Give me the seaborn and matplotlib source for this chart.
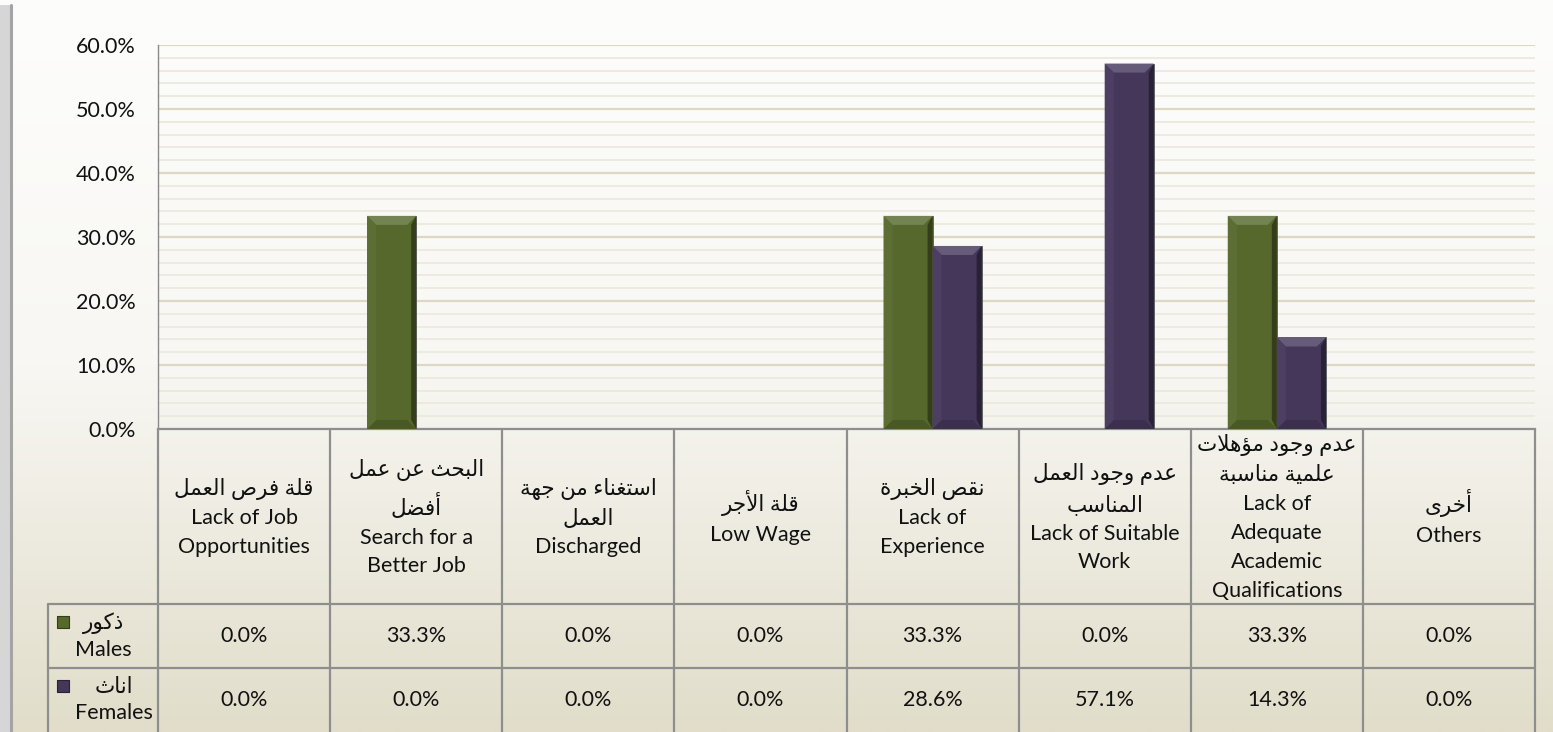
import numpy as np
import pandas as pd
import seaborn as sns
import matplotlib.pyplot as plt
from matplotlib.patches import Polygon
from matplotlib.colors import to_rgb, LinearSegmentedColormap

# ---- data ----
cat_ar = ['قلة فرص العمل', 'البحث عن عمل\nأفضل', 'استغناء من جهة\nالعمل', 'قلة الأجر',
          'نقص الخبرة', 'عدم وجود العمل\nالمناسب', 'عدم وجود مؤهلات\nعلمية مناسبة', 'أخرى']
cat_en = ['Lack of Job\nOpportunities', 'Search for a\nBetter Job', 'Discharged', 'Low Wage',
          'Lack of\nExperience', 'Lack of Suitable\nWork',
          'Lack of\nAdequate\nAcademic\nQualifications', 'Others']
males = [0.0, 33.3, 0.0, 0.0, 33.3, 0.0, 33.3, 0.0]
females = [0.0, 0.0, 0.0, 0.0, 28.6, 57.1, 14.3, 0.0]
series_ar = ['ذكور', 'اناث']
series_en = ['Males', 'Females']
colors = ['#56682c', '#45375a']
yticks = [0, 10, 20, 30, 40, 50, 60]

# ---- minimal arabic shaping (matplotlib has none) ----
DUAL = {'ئ': 0xFE89, 'ب': 0xFE8F, 'ت': 0xFE95, 'ث': 0xFE99, 'ج': 0xFE9D, 'ح': 0xFEA1,
        'خ': 0xFEA5, 'س': 0xFEB1, 'ش': 0xFEB5, 'ص': 0xFEB9, 'ض': 0xFEBD, 'ط': 0xFEC1,
        'ظ': 0xFEC5, 'ع': 0xFEC9, 'غ': 0xFECD, 'ف': 0xFED1, 'ق': 0xFED5, 'ك': 0xFED9,
        'ل': 0xFEDD, 'م': 0xFEE1, 'ن': 0xFEE5, 'ه': 0xFEE9, 'ي': 0xFEF1}
RIGHT = {'آ': 0xFE81, 'أ': 0xFE83, 'ؤ': 0xFE85, 'إ': 0xFE87, 'ا': 0xFE8D, 'ة': 0xFE93,
         'د': 0xFEA9, 'ذ': 0xFEAB, 'ر': 0xFEAD, 'ز': 0xFEAF, 'و': 0xFEED, 'ى': 0xFEEF}
LAM_ALEF = {'آ': 0xFEF5, 'أ': 0xFEF7, 'إ': 0xFEF9, 'ا': 0xFEFB}


def shape_line(s):
    chars = []
    i = 0
    while i < len(s):
        if s[i] == 'ل' and i + 1 < len(s) and s[i + 1] in LAM_ALEF:
            chars.append(('LA', s[i + 1]))
            i += 2
        else:
            chars.append(s[i])
            i += 1

    def joining(c):
        return isinstance(c, tuple) or c in DUAL or c in RIGHT

    out = []
    for k, c in enumerate(chars):
        prev = chars[k - 1] if k > 0 else None
        nxt = chars[k + 1] if k + 1 < len(chars) else None
        p = prev is not None and not isinstance(prev, tuple) and prev in DUAL
        if isinstance(c, tuple):
            out.append(chr(LAM_ALEF[c[1]] + (1 if p else 0)))
        elif c in DUAL:
            n = nxt is not None and joining(nxt)
            form = 3 if (p and n) else 1 if p else 2 if n else 0
            out.append(chr(DUAL[c] + form))
        elif c in RIGHT:
            out.append(chr(RIGHT[c] + (1 if p else 0)))
        elif c == 'ء':
            out.append(chr(0xFE80))
        else:
            out.append(c)
    return ''.join(reversed(out))


def shape(s):
    return '\n'.join(shape_line(l) for l in s.split('\n'))


# ---- figure ----
W, H = 1553, 732
FONT = ['Lato', 'DejaVu Sans']
FS = 15.5
sns.set_theme(style='white')
plt.rcParams['font.family'] = FONT

fig = plt.figure(figsize=(W / 100, H / 100), dpi=100)

# background gradient + left shadow
bg = fig.add_axes([0, 0, 1, 1], zorder=-5)
cmap = LinearSegmentedColormap.from_list('bg', ['#fdfdfc', '#f8f7f3', '#e1ddca'])
bg.imshow(np.linspace(0, 1, 256)[:, None], aspect='auto', cmap=cmap,
          extent=[0, W, H, 0])
bg.add_patch(plt.Rectangle((0, 5), 10, H, color='#d6d6d6', lw=0))
bg.plot([11, 11], [5, H], color='#a4a4a4', lw=2.2)
bg.set_xlim(0, W)
bg.set_ylim(H, 0)
bg.axis('off')

PL, PR, PT, PB = 158, 1535, 45, 429
col_w = (PR - PL) / 8
ax = fig.add_axes([PL / W, 1 - PB / H, (PR - PL) / W, (PB - PT) / H])
ax.patch.set_alpha(0)

df = pd.DataFrame({
    'cat': list(range(8)) * 2,
    'val': males + females,
    'sex': ['m'] * 8 + ['f'] * 8,
})
sns.barplot(data=df, x='cat', y='val', hue='sex', palette=colors, width=0.57,
            legend=False, ax=ax, edgecolor='#5a5a5a', linewidth=0.6, saturation=1, zorder=3)

ax.set_ylim(0, 60)
ax.set_xlim(-0.5, 7.5)
ax.set_yticks(yticks)
ax.set_yticklabels([f'{v:.1f}%' for v in yticks], fontsize=FS, color='#111111')
ax.set_yticks(np.arange(0, 61, 2), minor=True)
ax.set_xticks([])
ax.set_xlabel('')
ax.set_ylabel('')
ax.tick_params(axis='y', length=0, pad=16, which='both')
ax.grid(axis='y', which='major', color='#ddd8c4', lw=1.6, zorder=0)
ax.grid(axis='y', which='minor', color='#ebe8dc', lw=1.2, zorder=0)
for s in ['top', 'right']:
    ax.spines[s].set_visible(False)
ax.spines['left'].set_color('#8a8a8a')
ax.spines['left'].set_linewidth(1.0)
ax.spines['bottom'].set_color('#8e8e8e')
ax.spines['bottom'].set_linewidth(1.6)


def mix(c, t, a):
    c = np.array(to_rgb(c))
    return tuple(c * (1 - a) + np.array(t) * a)


# bevel look
bx = 9 / col_w
by = 9 / ((PB - PT) / 60)
bxr = 5 / col_w
for p in ax.patches:
    h = p.get_height()
    if h <= 0:
        continue
    x0, w = p.get_x(), p.get_width()
    fc = p.get_facecolor()[:3]
    faces = [
        ([(x0, h), (x0 + w, h), (x0 + w - bx, h - by), (x0 + bx, h - by)], mix(fc, (1, 1, 1), 0.18)),
        ([(x0, 0), (x0 + w, 0), (x0 + w - bx, by), (x0 + bx, by)], mix(fc, (0, 0, 0), 0.15)),
        ([(x0 + w, 0), (x0 + w, h), (x0 + w - bxr, h - by), (x0 + w - bxr, by)], mix(fc, (0, 0, 0), 0.4)),
        ([(x0, 0), (x0, h), (x0 + bx, h - by), (x0 + bx, by)], mix(fc, (1, 1, 1), 0.04)),
    ]
    for pts, c in faces:
        ax.add_patch(Polygon(pts, closed=True, color=c, lw=0, zorder=4))

# ---- data table ----
TH = H - PB
tax = fig.add_axes([PL / W, 0, (PR - PL) / W, TH / H])
tax.patch.set_alpha(0)
tax.set_xlim(-0.5, 7.5)
tax.set_ylim(TH, 0)
tax.axis('off')

r1, r2, r3 = 175, 239, 303
leg_l = -0.5 - (PL - 48) / col_w
lc, lw = '#8e8e8e', 1.6
for i in range(9):
    tax.plot([i - 0.5, i - 0.5], [0, r3 + 5], color=lc, lw=lw, clip_on=False)
tax.plot([leg_l, leg_l], [r1, r3 + 5], color=lc, lw=lw, clip_on=False)
for y in [r1, r2]:
    tax.plot([leg_l, 7.5], [y, y], color=lc, lw=lw, clip_on=False)

for i in range(8):
    tax.text(i, r1 / 2 + 1, shape(cat_ar[i]) + '\n' + cat_en[i], ha='center', va='center',
             fontsize=FS, linespacing=1.55, color='#111111', family=FONT)
    tax.text(i, (r1 + r2) / 2, f'{males[i]:.1f}%', ha='center', va='center',
             fontsize=FS, color='#111111')
    tax.text(i, (r2 + r3) / 2, f'{females[i]:.1f}%', ha='center', va='center',
             fontsize=FS, color='#111111')

txt_x = -0.5 - (PL - 75) / col_w
sq_x = -0.5 - (PL - 63) / col_w
for k, (ytop, ybot) in enumerate([(r1, r2), (r2, r3)]):
    ym = (ytop + ybot) / 2
    tax.scatter([sq_x], [ym - 14], marker='s', s=85, color=colors[k],
                edgecolor=mix(colors[k], (0, 0, 0), 0.4), lw=0.8, clip_on=False, zorder=5)
    tax.text(txt_x, ym, shape(series_ar[k]) + '\n' + series_en[k], ha='left', va='center',
             multialignment='center', fontsize=FS, linespacing=1.35, color='#111111',
             family=FONT)

fig.savefig('out.png', dpi=100)
